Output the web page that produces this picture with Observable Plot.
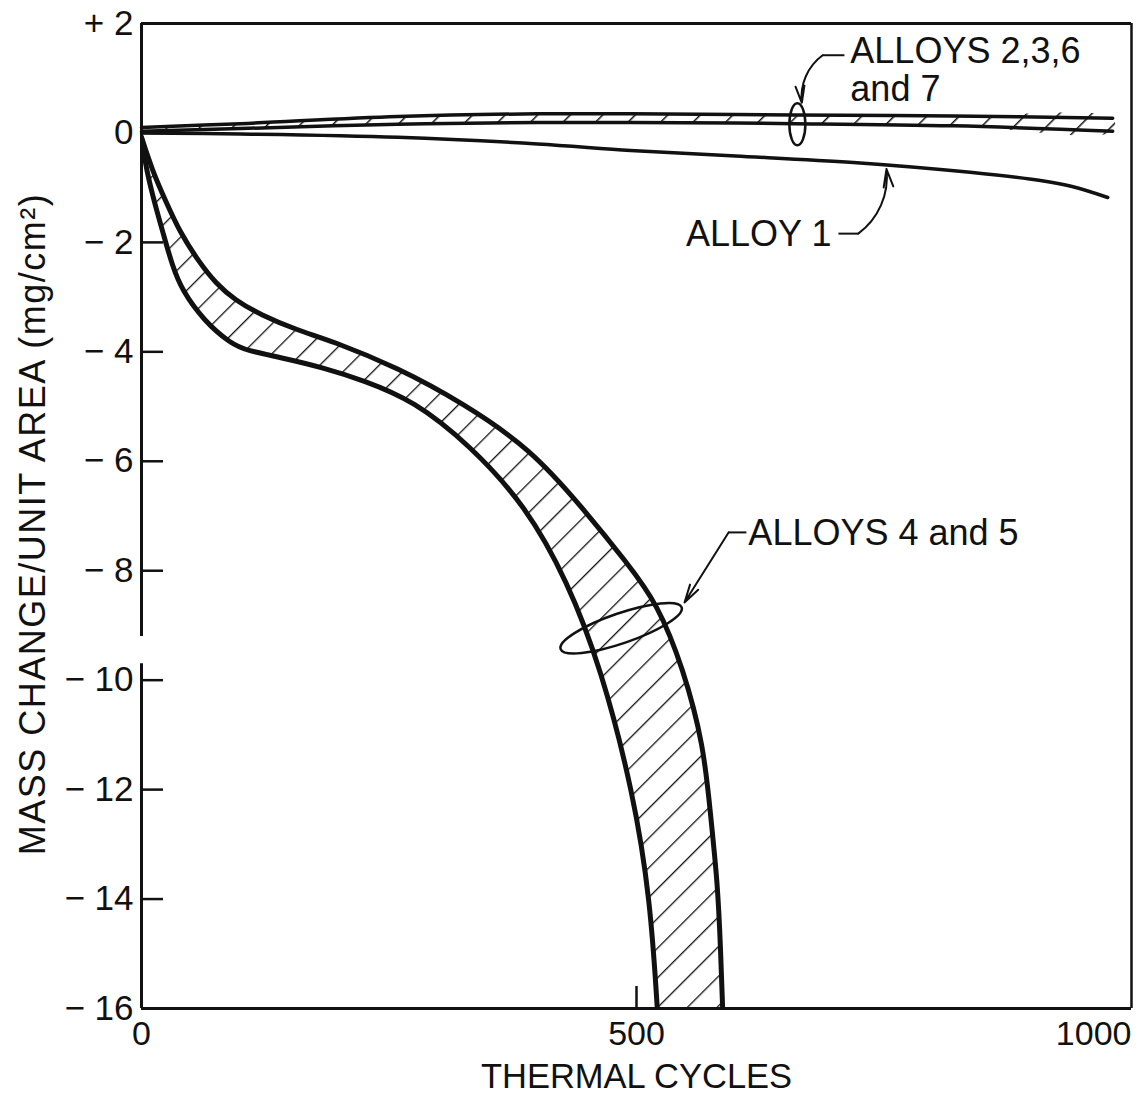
<!DOCTYPE html>
<html>
<head>
<meta charset="utf-8">
<script src="https://cdn.jsdelivr.net/npm/d3@7"></script>
<script src="https://cdn.jsdelivr.net/npm/@observablehq/plot@0.6"></script>
<style>
  body { margin: 0; background: #fff; }
  #chart svg { display: block; }
</style>
</head>
<body>
<div id="chart"></div>
<script>
// ---- Data (thermal cycles vs mass change mg/cm^2) ----
// Alloys 2,3,6 and 7 band
const band2367X     = [0, 100, 259, 400, 494, 660, 820, 981];
const band2367Upper = [0.10, 0.17, 0.30, 0.35, 0.35, 0.33, 0.31, 0.27];
const band2367Lower = [0.03, 0.08, 0.16, 0.19, 0.19, 0.17, 0.13, 0.03];

// Alloy 1
const alloy1X = [0, 100, 259, 400, 494, 600, 719, 837, 908, 940, 976];
const alloy1Y = [0.0, -0.02, -0.08, -0.20, -0.32, -0.42, -0.54, -0.72, -0.87, -0.98, -1.18];

// Alloys 4 and 5 band: outer (less negative) boundary
const band45OuterX = [0, 11, 24, 39, 57, 75, 95, 120, 158, 191, 259, 325, 393, 446, 491, 521, 547, 568, 575, 582, 585, 587];
const band45OuterY = [-0.08, -0.69, -1.23, -1.82, -2.33, -2.75, -3.06, -3.32, -3.61, -3.79, -4.29, -4.94, -5.77, -6.86, -7.87, -8.6, -9.77, -11.19, -12.51, -13.72, -14.94, -16];
// inner (more negative) boundary
const band45InnerX = [0, 5, 14, 22, 31, 41, 63, 90, 107, 140, 184, 224, 275, 332, 388, 430, 464, 497, 514, 521];
const band45InnerY = [-0.08, -0.69, -1.33, -1.84, -2.42, -2.88, -3.43, -3.85, -3.98, -4.1, -4.29, -4.52, -4.89, -5.71, -6.81, -8.18, -9.77, -12.07, -14.03, -16];

// Axis ticks
const yTicks = [2, 0, -2, -4, -6, -8, -10, -12, -14, -16];
const yTickLabels = ["+ 2", "0", "\u2212 2", "\u2212 4", "\u2212 6", "\u2212 8", "\u2212 10", "\u2212 12", "\u2212 14", "\u2212 16"];
const xTicks = [0, 500, 1000];
const xTickLabels = ["0", "500", "1000"];

// Annotations (data units)
const annoText = ["ALLOYS 2,3,6\nand 7", "ALLOY 1", "ALLOYS 4 and 5"];
const annoX = [716, 550, 613];
const annoY = [1.16, -1.84, -7.3];
// leader dashes
const dashX1 = [710, 704, 611];
const dashX2 = [688, 724, 593];
const dashY  = [1.42, -1.84, -7.3];
// arrows
const arrowX1 = [688, 724, 593];
const arrowY1 = [1.42, -1.84, -7.3];
const arrowX2 = [667, 752.5, 548.5];
const arrowY2 = [0.55, -0.66, -8.58];
const arrowBend = [-30, -30, 0];
// ellipses (centre in data units)
const ellX = [663, 485];
const ellY = [0.15, -9.06];

// ---- build tables ----
const pts = (xs, ys) => xs.map((x, i) => ({x, y: ys[i]}));
const outer45 = pts(band45OuterX, band45OuterY);
const inner45 = pts(band45InnerX, band45InnerY);
const oEnd = outer45[outer45.length - 1], iEnd = inner45[inner45.length - 1];
// corner rows repeated so the B-spline passes through the bottom corners
const band45Poly = [...outer45, oEnd, oEnd, iEnd, iEnd, ...inner45.slice().reverse()];
const band2367Poly = [...pts(band2367X, band2367Upper), ...pts(band2367X, band2367Lower).reverse()];
const yTickRows = yTicks.map((v, i) => ({v, label: yTickLabels[i]}));
const annoRows = annoText.map((t, i) => ({t, x: annoX[i], y: annoY[i]}));
const dashRows = dashY.map((y, i) => ({x1: dashX1[i], x2: dashX2[i], y}));
const arrowRows = arrowX1.map((x1, i) => ({x1, y1: arrowY1[i], x2: arrowX2[i], y2: arrowY2[i], bend: arrowBend[i]}));

const W = 1141, H = 1103;
const mL = 141, mT = 23, mR = 10, mB = 95;
const frameW = W - mL - mR, frameH = H - mT - mB;
const FONT = "'Liberation Sans', Arial, Helvetica, sans-serif";

const ink = "#111";

const plot = Plot.plot({
  width: W, height: H,
  marginLeft: mL, marginTop: mT, marginRight: mR, marginBottom: mB,
  x: {domain: [0, 1000], axis: null},
  y: {domain: [-16, 2], axis: null},
  style: {fontFamily: FONT, background: "#fff", color: ink},
  marks: [
    // hatch fills
    Plot.line(band45Poly, {x: "x", y: "y", fill: "url(#hatch45)", stroke: "none", curve: "basis", clip: true}),
    Plot.line(band2367Poly, {x: "x", y: "y", fill: "url(#hatch2367)", stroke: "none", curve: "catmull-rom", clip: true}),
    // boundaries
    Plot.line(outer45, {x: "x", y: "y", stroke: ink, strokeWidth: 5, curve: "basis", clip: true}),
    Plot.line(inner45, {x: "x", y: "y", stroke: ink, strokeWidth: 5, curve: "basis", clip: true}),
    Plot.line(pts(band2367X, band2367Upper), {x: "x", y: "y", stroke: ink, strokeWidth: 3.5, curve: "catmull-rom"}),
    Plot.line(pts(band2367X, band2367Lower), {x: "x", y: "y", stroke: ink, strokeWidth: 3.5, curve: "catmull-rom"}),
    Plot.line(pts(alloy1X, alloy1Y), {x: "x", y: "y", stroke: ink, strokeWidth: 3.5, curve: "catmull-rom"}),
    // frame (left side broken)
    Plot.ruleY([2, -16], {stroke: ink, strokeWidth: 3}),
    Plot.ruleX([1000], {stroke: ink, strokeWidth: 2.5}),
    Plot.ruleX([{y1: 2, y2: -9.2}, {y1: -9.7, y2: -16}], {x: () => 0, y1: "y1", y2: "y2", stroke: ink, strokeWidth: 3}),
    // inward ticks
    Plot.tickY(yTicks.filter(v => v < 2 && v > -16), {y: d => d, stroke: ink, strokeWidth: 2.5, insetRight: frameW - 22}),
    Plot.tickX([500], {x: d => d, stroke: ink, strokeWidth: 2.5, insetTop: frameH - 22}),
    // tick labels
    Plot.text(yTickRows, {y: "v", text: "label", frameAnchor: "left", textAnchor: "end", dx: -8, fontSize: 35, fill: ink}),
    Plot.text(xTicks.slice(0, 2), {x: d => d, text: (d, i) => xTickLabels[i], frameAnchor: "bottom", lineAnchor: "top", dy: 12, fontSize: 34, fill: ink}),
    Plot.text([1000], {x: d => d, text: () => xTickLabels[2], frameAnchor: "bottom", lineAnchor: "top", textAnchor: "end", dy: 12, fontSize: 34, fill: ink}),
    // axis titles
    Plot.text(["THERMAL CYCLES"], {frameAnchor: "bottom", lineAnchor: "top", dy: 55, fontSize: 34.5, fill: ink, text: d => d}),
    Plot.text(["MASS CHANGE/UNIT AREA (mg/cm\u00B2)"], {frameAnchor: "left", textAnchor: "middle", rotate: -90, dx: -108, dy: 8, fontSize: 36, fill: ink, text: d => d, className: "ylabel"}),
    // annotations
    Plot.text(annoRows, {x: "x", y: "y", text: "t", textAnchor: "start", lineHeight: 1.06, fontSize: 36, fill: ink}),
    Plot.link(dashRows, {x1: "x1", x2: "x2", y1: "y", y2: "y", stroke: ink, strokeWidth: 2}),
    ...arrowRows.map(r => Plot.arrow([r], {x1: "x1", y1: "y1", x2: "x2", y2: "y2", bend: r.bend, stroke: ink, strokeWidth: 2, headLength: 14, headAngle: 30}))
  ]
});

// patterns
const svg = d3.select(plot);
svg.selectAll(".ylabel text").style("letter-spacing", "1.5px");
const defs = svg.insert("defs", ":first-child");
function hatch(id, gap, sw) {
  const p = defs.append("pattern").attr("id", id).attr("patternUnits", "userSpaceOnUse")
    .attr("width", gap).attr("height", gap).attr("patternTransform", "rotate(45)");
  p.append("rect").attr("width", gap).attr("height", gap).attr("fill", "#fff");
  p.append("line").attr("x1", 0).attr("y1", 0).attr("x2", 0).attr("y2", gap)
    .attr("stroke", ink).attr("stroke-width", sw);
}
hatch("hatch45", 21, 2.6);
hatch("hatch2367", 23, 3);

// ellipses positioned through the plot's scales
const sx = plot.scale("x"), sy = plot.scale("y");
const ellRx = [8, 64], ellRy = [21, 15], ellRot = [0, -19];
ellX.forEach((x, i) => {
  const cx = sx.apply(x), cy = sy.apply(ellY[i]);
  svg.append("ellipse").attr("cx", 0).attr("cy", 0).attr("rx", ellRx[i]).attr("ry", ellRy[i])
    .attr("transform", `translate(${cx},${cy}) rotate(${ellRot[i]})`)
    .attr("fill", "none").attr("stroke", ink).attr("stroke-width", 2.5);
});

document.getElementById("chart").appendChild(plot);
</script>
</body>
</html>
